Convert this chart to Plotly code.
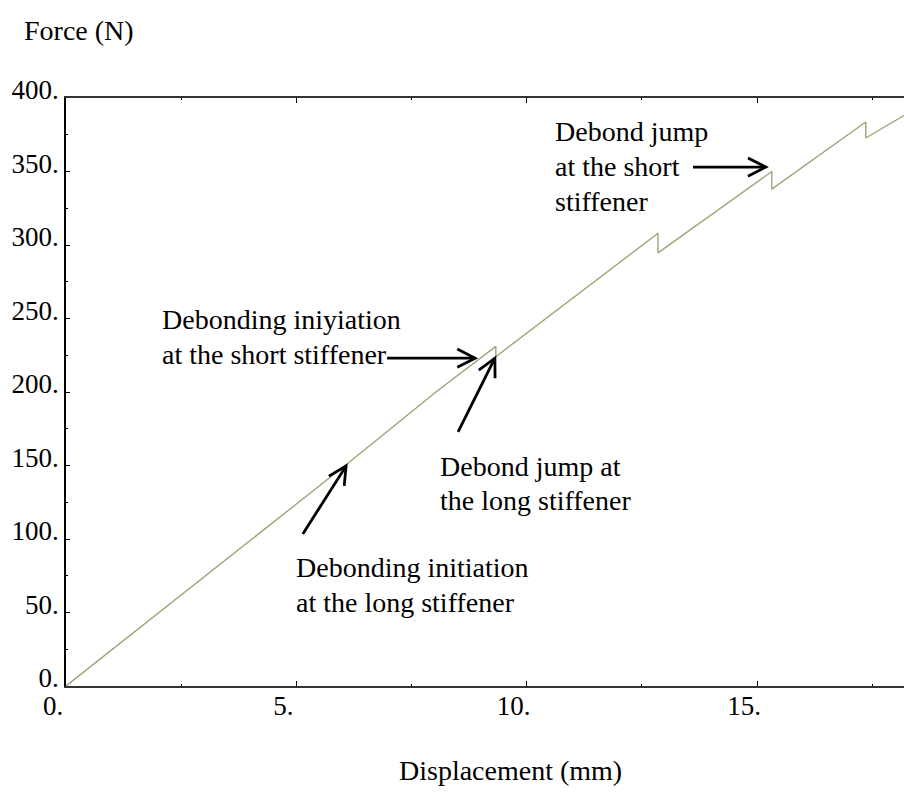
import math
import plotly.graph_objects as go

# ---- data ----
displacement = [0.0, 6.10, 8.05, 9.33, 9.33, 12.85, 12.85, 15.32, 15.32, 17.36, 17.36, 18.40]
force = [0.0, 151.0, 200.5, 231.0, 224.0, 308.0, 294.6, 350.0, 338.0, 383.7, 372.8, 392.0]

x_tickvals = [0, 5, 10, 15]
x_ticktext = ["0.", "5.", "10.", "15."]
y_tickvals = [0, 50, 100, 150, 200, 250, 300, 350, 400]
y_ticktext = ["0.", "50.", "100.", "150.", "200.", "250.", "300.", "350.", "400."]

# arrows: (tail_x, tail_y, head_x, head_y) in data units
arrow_tails_x = [5.14, 6.97, 8.51, 13.61]
arrow_tails_y = [103.4, 223.0, 172.8, 353.0]
arrow_heads_x = [6.08, 8.88, 9.31, 15.19]
arrow_heads_y = [149.7, 223.0, 223.0, 353.0]

# text labels: one entry per line (left x, middle y in data units)
label_lines = ["Debonding iniyiation", "at the short stiffener",
               "Debond jump at", "the long stiffener",
               "Debonding initiation", "at the long stiffener",
               "Debond jump", "at the short", "stiffener"]
label_x = [2.04, 2.04, 8.07, 8.07, 4.95, 4.95, 10.57, 10.57, 10.57]
label_y = [249.0, 225.2, 149.0, 126.5, 80.3, 56.5, 376.9, 353.1, 329.3]

X_RANGE = [0, 18.19]
Y_RANGE = [0, 400]
W, H = 904, 798
ML, MR, MT, MB = 66, 0, 98, 112
PX_X = (W - ML - MR) / (X_RANGE[1] - X_RANGE[0])
PX_Y = (H - MT - MB) / (Y_RANGE[1] - Y_RANGE[0])
plot_w = W - ML - MR
plot_h = H - MT - MB

FONT = "Liberation Serif"

fig = go.Figure()
fig.add_trace(go.Scatter(x=displacement, y=force, mode="lines",
                         line=dict(color="#a2a27a", width=1.4),
                         hoverinfo="skip", showlegend=False))

shapes = []
for tx, ty, hx, hy in zip(arrow_tails_x, arrow_tails_y, arrow_heads_x, arrow_heads_y):
    shapes.append(dict(type="line", xref="x", yref="y", x0=tx, y0=ty, x1=hx, y1=hy,
                       line=dict(color="black", width=2.8)))
    # open V head in pixel space
    dxp = (hx - tx) * PX_X
    dyp = (hy - ty) * PX_Y
    n = math.hypot(dxp, dyp)
    ux, uy = dxp / n, dyp / n
    L, th = 20.0, math.radians(27)
    pts = []
    for s in (1, -1):
        c, sn = math.cos(s * th), math.sin(s * th)
        rx = ux * c - uy * sn
        ry = ux * sn + uy * c
        pts.append((hx - L * rx / PX_X, hy - L * ry / PX_Y))
    path = "M {} {} L {} {} L {} {}".format(pts[0][0], pts[0][1], hx, hy, pts[1][0], pts[1][1])
    shapes.append(dict(type="path", xref="x", yref="y", path=path,
                       line=dict(color="black", width=2.8)))

annotations = []
for t, x, y in zip(label_lines, label_x, label_y):
    annotations.append(dict(text=t, x=x, y=y, xref="x", yref="y", showarrow=False,
                            xanchor="left", yanchor="middle",
                            font=dict(family=FONT, size=28, color="black")))
annotations.append(dict(text="Force (N)", x=(22 - ML) / plot_w, y=(H - MB - 30) / plot_h,
                        xref="paper", yref="paper", xanchor="left", yanchor="middle",
                        showarrow=False, font=dict(family=FONT, size=28, color="black")))
annotations.append(dict(text="Displacement (mm)", x=(510 - ML) / plot_w, y=(H - MB - 770) / plot_h,
                        xref="paper", yref="paper", xanchor="center", yanchor="middle",
                        showarrow=False, font=dict(family=FONT, size=28, color="black")))

fig.update_layout(
    width=W, height=H,
    margin=dict(l=ML, r=MR, t=MT, b=MB),
    paper_bgcolor="white", plot_bgcolor="white",
    shapes=shapes, annotations=annotations,
    showlegend=False,
    xaxis=dict(range=X_RANGE, tickvals=x_tickvals, ticktext=x_ticktext,
               showgrid=False, zeroline=False, showline=True, linecolor="#333333",
               linewidth=1.5, mirror="ticks", ticks="inside", ticklen=5, tickcolor="black",
               tickwidth=1, ticklabelshift=-13, ticklabelstandoff=-5,
               minor=dict(dtick=2.5, ticks="inside", ticklen=2, tickcolor="black", tickwidth=1),
               tickfont=dict(family=FONT, size=27, color="black")),
    yaxis=dict(range=Y_RANGE, tickvals=y_tickvals, ticktext=y_ticktext,
               showgrid=False, zeroline=False, showline=True, linecolor="black",
               linewidth=1.5, ticks="inside", ticklen=4, tickcolor="black",
               tickwidth=1, ticklabelshift=-8,
               minor=dict(dtick=25, ticks="inside", ticklen=2, tickcolor="black", tickwidth=1),
               tickfont=dict(family=FONT, size=27, color="black")),
)

fig.write_html("out.html")
